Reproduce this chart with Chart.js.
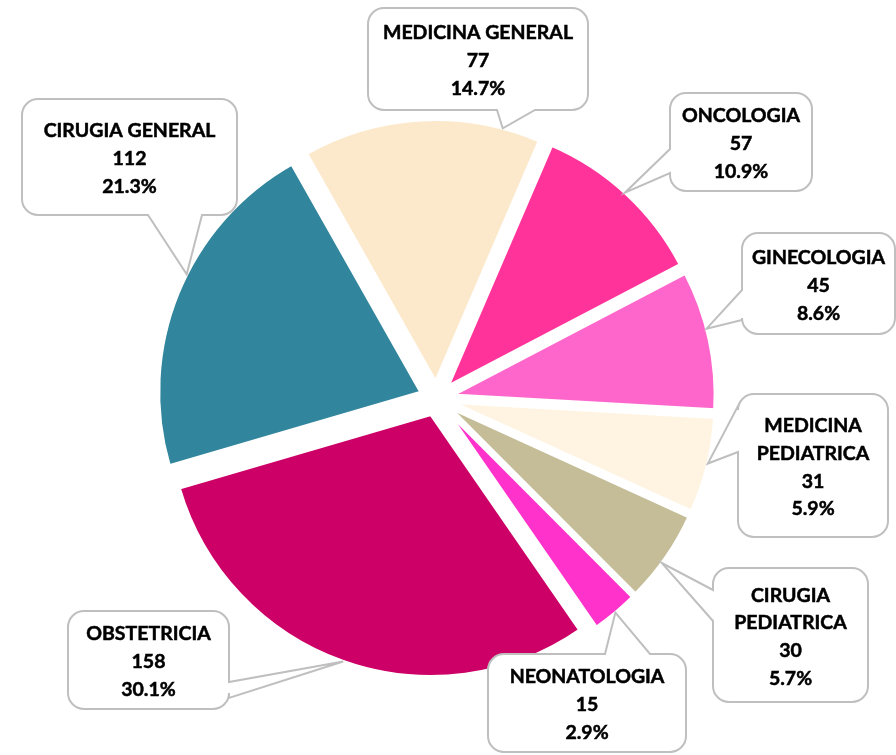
<!DOCTYPE html>
<html>
<head>
<meta charset="utf-8">
<script src="https://cdn.jsdelivr.net/npm/chart.js@4.4.1/dist/chart.umd.min.js"></script>
<style>
  html, body { margin: 0; padding: 0; background: #fff; }
  #wrap { position: relative; width: 896px; height: 755px; }
</style>
</head>
<body>
<div id="wrap"><canvas id="myChart"></canvas></div>
<script>
var categories = ['MEDICINA GENERAL', 'ONCOLOGIA', 'GINECOLOGIA', 'MEDICINA PEDIATRICA',
                  'CIRUGIA PEDIATRICA', 'NEONATOLOGIA', 'OBSTETRICIA', 'CIRUGIA GENERAL'];
var values = [77, 57, 45, 31, 30, 15, 158, 112];
var colors = ['#FCE9CB', '#FF3399', '#FF66CC', '#FFF4E1', '#C4BD97', '#FF33CC', '#CC0066', '#31859C'];

// callout bubbles: box [x, y, w, h], side the wedge leaves from, wedge base, and
// where along the slice's arc the tip lands (0 = start, 1 = end)
var callouts = [
    {box: [368, 8, 220, 102],  side: 'bottom', base: [497, 535], at: 0.84},
    {box: [670, 93, 142, 98],  side: 'left',   base: [149, 173], at: 0.49},
    {box: [742, 233, 153, 101], side: 'left',  base: [290, 320], at: 0.42},
    {box: [738, 394, 150, 143], side: 'left',  base: [406, 452], at: 0.48},
    {box: [713, 568, 155, 134], side: 'left',  base: [590, 621], at: 0.57},
    {box: [488, 654, 198, 98], side: 'top',    base: [605, 650], at: 0.49},
    {box: [68, 611, 161, 98],  side: 'right',  base: [682, 698], at: 0.5},
    {box: [22, 99, 215, 116],  side: 'bottom', base: [148, 202], at: 0.56}
];

const EXPLODE = 17;
const total = values.reduce(function(a, b) { return a + b; }, 0);

// draw every slice pushed outward along its bisector
const explodePlugin = {
    id: 'explode',
    beforeDatasetDraw(chart, args) {
        const ctx = chart.ctx;
        args.meta.data.forEach(function(arc) {
            const mid = (arc.startAngle + arc.endAngle) / 2;
            ctx.save();
            ctx.translate(Math.cos(mid) * EXPLODE, Math.sin(mid) * EXPLODE);
            arc.draw(ctx);
            ctx.restore();
        });
        return false;
    }
};

function bubblePath(ctx, c, tx, ty) {
    const x = c.box[0], y = c.box[1], w = c.box[2], h = c.box[3];
    const r = 16, s = c.side, b = c.base;
    ctx.beginPath();
    ctx.moveTo(x + r, y);
    if (s === 'top') { ctx.lineTo(b[0], y); ctx.lineTo(tx, ty); ctx.lineTo(b[1], y); }
    ctx.lineTo(x + w - r, y);
    ctx.arcTo(x + w, y, x + w, y + r, r);
    if (s === 'right') { ctx.lineTo(x + w, b[0]); ctx.lineTo(tx, ty); ctx.lineTo(x + w, b[1]); }
    ctx.lineTo(x + w, y + h - r);
    ctx.arcTo(x + w, y + h, x + w - r, y + h, r);
    if (s === 'bottom') { ctx.lineTo(b[1], y + h); ctx.lineTo(tx, ty); ctx.lineTo(b[0], y + h); }
    ctx.lineTo(x + r, y + h);
    ctx.arcTo(x, y + h, x, y + h - r, r);
    if (s === 'left') { ctx.lineTo(x, b[1]); ctx.lineTo(tx, ty); ctx.lineTo(x, b[0]); }
    ctx.lineTo(x, y + r);
    ctx.arcTo(x, y, x + r, y, r);
    ctx.closePath();
}

function wrapWords(ctx, text, maxW) {
    const words = text.split(' ');
    const lines = [];
    let cur = '';
    words.forEach(function(wd) {
        const test = cur ? cur + ' ' + wd : wd;
        if (cur && ctx.measureText(test).width > maxW) { lines.push(cur); cur = wd; }
        else cur = test;
    });
    lines.push(cur);
    return lines;
}

const calloutPlugin = {
    id: 'callouts',
    afterDraw(chart) {
        const ctx = chart.ctx;
        const arcs = chart.getDatasetMeta(0).data;
        ctx.save();
        ctx.font = 'bold 19.5px Lato';
        ctx.textAlign = 'center';
        ctx.textBaseline = 'middle';
        arcs.forEach(function(arc, i) {
            const c = callouts[i];
            const mid = (arc.startAngle + arc.endAngle) / 2;
            const a = arc.startAngle + c.at * (arc.endAngle - arc.startAngle);
            const tx = arc.x + Math.cos(mid) * EXPLODE + Math.cos(a) * arc.outerRadius;
            const ty = arc.y + Math.sin(mid) * EXPLODE + Math.sin(a) * arc.outerRadius;

            bubblePath(ctx, c, tx, ty);
            ctx.fillStyle = '#fff';
            ctx.fill();
            ctx.lineWidth = 2;
            ctx.strokeStyle = '#BFBFBF';
            ctx.stroke();

            const lines = wrapWords(ctx, categories[i], c.box[2] - 16);
            lines.push(String(values[i]));
            lines.push((values[i] / total * 100).toFixed(1) + '%');
            const lh = 27.8;
            const cx = c.box[0] + c.box[2] / 2;
            const cy = c.box[1] + c.box[3] / 2 + 2;
            ctx.fillStyle = '#000';
            ctx.strokeStyle = '#000';
            ctx.lineWidth = 0.5;
            lines.forEach(function(t, k) {
                const ly = cy + (k - (lines.length - 1) / 2) * lh;
                ctx.fillText(t, cx, ly);
                ctx.strokeText(t, cx, ly);
            });
        });
        ctx.restore();
    }
};

const ctx = document.getElementById('myChart').getContext('2d');
const myChart = new Chart(ctx, {
    type: 'pie',
    data: {
        labels: categories,
        datasets: [{
            data: values,
            backgroundColor: colors,
            borderColor: '#fff',
            borderWidth: 3,
            hoverOffset: 0
        }]
    },
    options: {
        responsive: true,
        maintainAspectRatio: false,
        animation: false,
        events: [],
        rotation: -29.5,
        radius: 262,
        layout: { padding: { left: 0, right: 23, top: 42, bottom: 0 } },
        plugins: {
            legend: { display: false },
            tooltip: { enabled: false }
        }
    },
    plugins: [explodePlugin, calloutPlugin]
});
</script>
</body>
</html>
